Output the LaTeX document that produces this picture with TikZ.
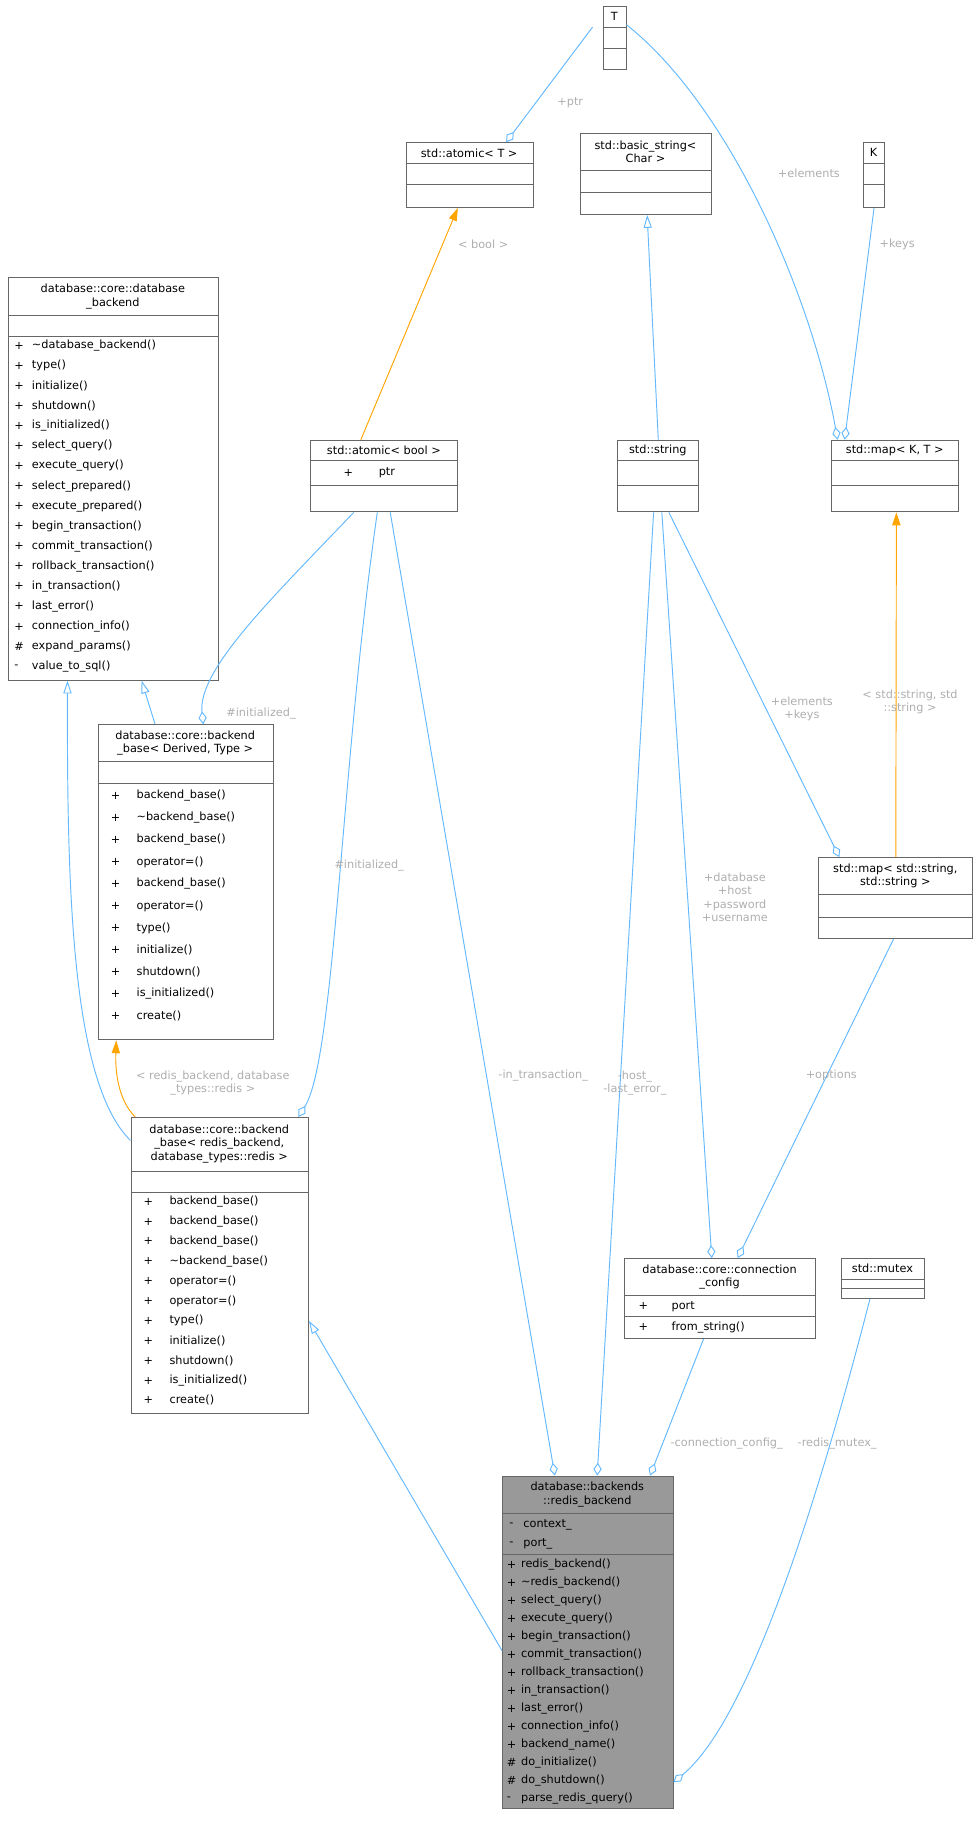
\documentclass[tikz,border=0pt]{standalone}
\usepackage{fontspec}
\setmainfont{DejaVu Sans}
\usetikzlibrary{arrows.meta,calc}
\definecolor{eblue}{HTML}{63B8FF}
\definecolor{eorange}{HTML}{FFA500}
\definecolor{lgray}{HTML}{9A9A9A}
\definecolor{bgray}{HTML}{999999}
\definecolor{bline}{HTML}{666666}
\newcommand\clsbox[6]{% name,x1,y1,x2,y2,fill
  \node[draw=bline,line width=0.8pt,fill=#6,inner sep=0,minimum width={#4pt-#2pt},minimum height={#5pt-#3pt},anchor=north west] (#1) at (#2,#3) {};}
\newcommand\hsep[3]{\draw[bline,line width=0.8pt] (#1,#3) -- (#2,#3);}
\begin{document}
\begin{tikzpicture}[x=1pt,y=-1pt,
  txt/.style={font=\fontsize{9.6}{11.5}\selectfont,inner sep=0,align=center},
  row/.style={font=\fontsize{9.6}{11.5}\selectfont,inner sep=0,anchor=west},
  lbl/.style={font=\fontsize{9.6}{11.5}\selectfont,text=lgray!80,inner sep=1,align=center},
  agg/.style={draw=eblue,line width=0.8pt,-{Diamond[open,length=11pt,width=7pt]}},
  inh/.style={draw=eblue,line width=0.8pt,-{Triangle[open,length=11pt,width=7pt]}},
  tpl/.style={draw=eorange,line width=0.8pt,-{Triangle[length=11pt,width=7pt,fill=eorange]}}]
\useasboundingbox (0,0) rectangle (830,1559);
% T
\clsbox{T}{513}{5}{532}{59}{white}
\hsep{513}{532}{23}\hsep{513}{532}{41}
\node[txt] at (522.5,14) {T};
% atomic<T>
\clsbox{atomT}{345}{121}{453}{176}{white}
\hsep{345}{453}{139}\hsep{345}{453}{157}
\node[txt] at (399,130) {std::atomic< T >};
% basic_string
\clsbox{bstr}{493}{113}{605}{182}{white}
\hsep{493}{605}{145}\hsep{493}{605}{164}
\node[txt] at (549,129) {std::basic\_string<\\Char >};
% K
\clsbox{K}{734}{121}{752}{176}{white}
\hsep{734}{752}{139}\hsep{734}{752}{157}
\node[txt] at (743,130) {K};
% database_backend
\clsbox{dbb}{7}{236}{185}{578}{white}
\hsep{7}{185}{268}\hsep{7}{185}{286}
\node[txt] at (96,252) {database::core::database\\\_backend};
\foreach \s/\m [count=\i from 0] in {+/\textasciitilde database\_backend(),+/type(),+/initialize(),+/shutdown(),+/is\_initialized(),+/select\_query(),+/execute\_query(),+/select\_prepared(),+/execute\_prepared(),+/begin\_transaction(),+/commit\_transaction(),+/rollback\_transaction(),+/in\_transaction(),+/last\_error(),+/connection\_info(),\#/expand\_params(),-/value\_to\_sql()}
  {\node[row] at (12,294+\i*17.06) {\s}; \node[row] at (27,294+\i*17.06) {\m};}
% atomic<bool>
\clsbox{atomB}{264}{374}{389}{435}{white}
\hsep{264}{389}{392}\hsep{264}{389}{413}
\node[txt] at (326.5,383) {std::atomic< bool >};
\node[row] at (292,402) {+}; \node[row] at (322,402) {ptr};
% std::string
\clsbox{str}{525}{374}{594}{435}{white}
\hsep{525}{594}{392}\hsep{525}{594}{413}
\node[txt] at (559.5,383) {std::string};
% map<K,T>
\clsbox{mapKT}{707}{374}{815}{435}{white}
\hsep{707}{815}{392}\hsep{707}{815}{413}
\node[txt] at (761,383) {std::map< K, T >};
% backend_base<Derived,Type>
\clsbox{bbDT}{83}{616}{232}{884}{white}
\hsep{83}{232}{648}\hsep{83}{232}{666}
\node[txt] at (157.5,632) {database::core::backend\\\_base< Derived, Type >};
\foreach \m [count=\i from 0] in {backend\_base(),\textasciitilde backend\_base(),backend\_base(),operator=(),backend\_base(),operator=(),type(),initialize(),shutdown(),is\_initialized(),create()}
  {\node[row] at (94,677+\i*18.7) {+}; \node[row] at (116,677+\i*18.7) {\m};}
% map<string,string>
\clsbox{mapSS}{696}{729}{827}{798}{white}
\hsep{696}{827}{761}\hsep{696}{827}{780}
\node[txt] at (761.5,745) {std::map< std::string,\\std::string >};
% backend_base<redis>
\clsbox{bbR}{111}{950}{262}{1202}{white}
\hsep{111}{262}{996}\hsep{111}{262}{1014}
\node[txt] at (186.5,973) {database::core::backend\\\_base< redis\_backend,\\database\_types::redis >};
\foreach \m [count=\i from 0] in {backend\_base(),backend\_base(),backend\_base(),\textasciitilde backend\_base(),operator=(),operator=(),type(),initialize(),shutdown(),is\_initialized(),create()}
  {\node[row] at (122,1022+\i*16.9) {+}; \node[row] at (144,1022+\i*16.9) {\m};}
% connection_config
\clsbox{cc}{531}{1070}{693}{1138}{white}
\hsep{531}{693}{1102}\hsep{531}{693}{1120}
\node[txt] at (612,1086) {database::core::connection\\\_config};
\node[row] at (543,1111) {+}; \node[row] at (571,1111) {port};
\node[row] at (543,1129) {+}; \node[row] at (571,1129) {from\_string()};
% mutex
\clsbox{mtx}{715}{1070}{786}{1104}{white}
\hsep{715}{786}{1088}\hsep{715}{786}{1096}
\node[txt] at (750.5,1079) {std::mutex};
% redis_backend
\clsbox{rb}{427}{1255}{572}{1538}{bgray}
\hsep{427}{572}{1287}\hsep{427}{572}{1322}
\node[txt] at (499.5,1271) {database::backends\\::redis\_backend};
\node[row] at (433,1297) {-}; \node[row] at (445,1297) {context\_};
\node[row] at (433,1313) {-}; \node[row] at (445,1313) {port\_};
\foreach \s/\m [count=\i from 0] in {+/redis\_backend(),+/\textasciitilde redis\_backend(),+/select\_query(),+/execute\_query(),+/begin\_transaction(),+/commit\_transaction(),+/rollback\_transaction(),+/in\_transaction(),+/last\_error(),+/connection\_info(),+/backend\_name(),\#/do\_initialize(),\#/do\_shutdown(),-/parse\_redis\_query()}
  {\node[row] at (431,1331+\i*15.3) {\s}; \node[row] at (443,1331+\i*15.3) {\m};}
% ---- edges
\draw[agg] ([xshift=-9]T.west |- 0,23) -- ([xshift=31]atomT.north);
\node[lbl] at (485,87) {+ptr};
\draw[agg] ([yshift=2]T.east |- 0,23) .. controls (620,90) and (690,250) .. ([xshift=-49]mapKT.north);
\node[lbl] at (688,147) {+elements};
\draw[agg] (K.south) -- ([xshift=-43]mapKT.north);
\node[lbl] at (763,208) {+keys};
\draw[tpl] ([xshift=-20]atomB.north) -- ([xshift=-10]atomT.south);
\node[lbl] at (411,208) {< bool >};
\draw[inh] (str.north) -- ([xshift=1]bstr.south);
\draw[tpl] (mapSS.north) -- ([xshift=1]mapKT.south);
\node[lbl] at (774,597) {< std::string, std\\::string >};
\draw[inh] ([xshift=-26]bbDT.north) -- ([xshift=24]dbb.south);
\draw[inh] ([yshift=-20]bbR.north west) .. controls (60,920) and (57,750) .. ([xshift=-39]dbb.south);
\draw[tpl] ([xshift=4]bbR.north west) .. controls (100,935) and (98,910) .. ([xshift=-59]bbDT.south);
\node[lbl] at (181,921) {< redis\_backend, database\\\_types::redis >};
\draw[agg] ([xshift=-26]atomB.south) .. controls (230,510) and (168,570) .. ([xshift=15]bbDT.north);
\node[lbl] at (222,607) {\#initialized\_};
\draw[agg] ([xshift=-6]atomB.south) .. controls (290,650) and (285,900) .. ([xshift=-9]bbR.north east);
\node[lbl] at (314,736) {\#initialized\_};
\draw[agg] ([xshift=5]atomB.south) -- ([xshift=-28]rb.north);
\node[lbl] at (462,915) {-in\_transaction\_};
\draw[agg] ([xshift=-4]str.south) -- ([xshift=8]rb.north);
\node[lbl] at (540,921) {-host\_\\-last\_error\_};
\draw[agg] ([xshift=3]str.south) -- ([xshift=-7]cc.north);
\node[lbl] at (625,763) {+database\\+host\\+password\\+username};
\draw[agg] ([xshift=9]str.south) -- ([xshift=-48]mapSS.north);
\node[lbl] at (682,603) {+elements\\+keys};
\draw[agg] ([xshift=-2]mapSS.south) -- ([xshift=15]cc.north);
\node[lbl] at (707,915) {+options};
\draw[agg] ([xshift=-14]cc.south) -- ([xshift=53]rb.north);
\node[lbl] at (618,1228) {-connection\_config\_};
\draw[agg] ([xshift=-11]mtx.south) .. controls (700,1260) and (640,1460) .. ([yshift=-119]rb.east);
\node[lbl] at (712,1228) {-redis\_mutex\_};
\draw[inh] ([yshift=-7]rb.west) -- ([yshift=-47]bbR.east);
\end{tikzpicture}
\end{document}
